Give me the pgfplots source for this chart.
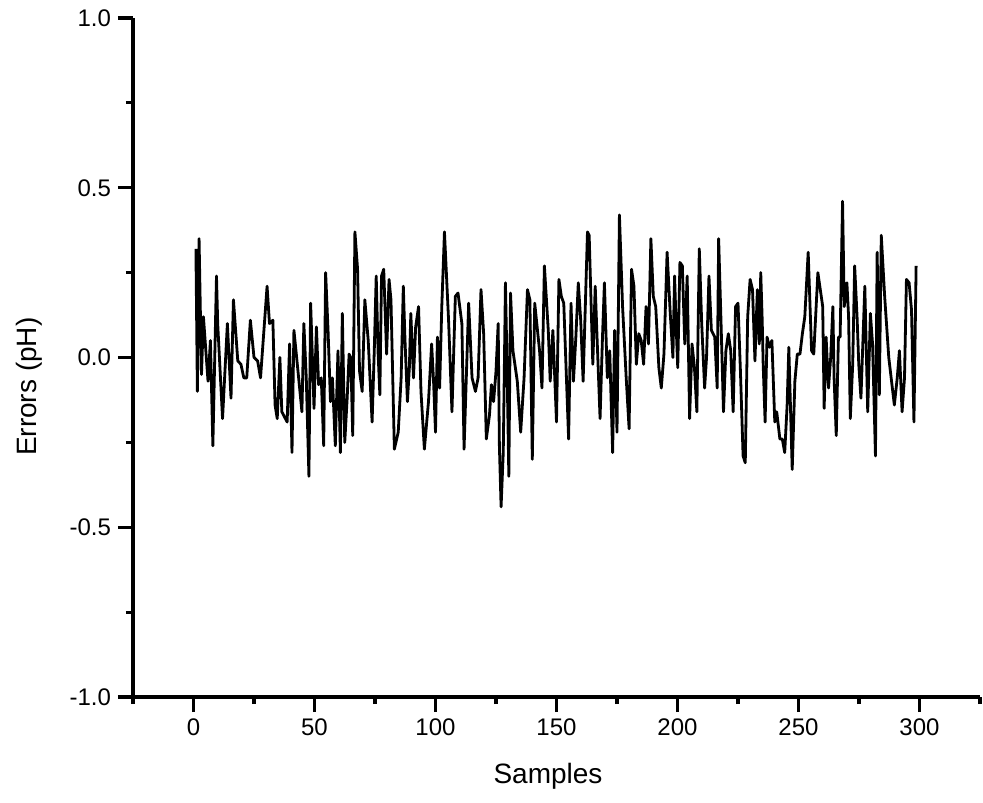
\documentclass[border=0pt]{standalone}
\usepackage{fontspec}
\setmainfont{Liberation Sans}
\usepackage{pgfplots}
\pgfplotsset{compat=1.18}
\begin{document}
\begin{tikzpicture}
\path[use as bounding box] (-66.5pt,-52.5pt) rectangle (425pt,348.5pt);
\begin{axis}[
  scale only axis,
  width=423.5pt, height=339.5pt,
  xmin=-25, xmax=325, ymin=-1, ymax=1,
  axis lines=left,
  axis line style={-, line width=1.6pt},
  tick align=outside,
  major tick length=7.5pt, minor tick length=3.5pt,
  major tick style={black, line width=1.6pt},
  minor tick style={black, line width=1.6pt},
  xtick={0,50,...,300}, xticklabels={0,50,100,150,200,250,300},
  minor xtick={-25,25,75,125,175,225,275,325},
  ytick={-1,-0.5,0,0.5,1}, yticklabels={-1.0,-0.5,0.0,0.5,1.0},
  minor ytick={-0.75,-0.25,0.25,0.75},
  tick label style={font=\fontsize{12}{14}\selectfont},
  label style={font=\fontsize{14}{16}\selectfont},
  xlabel={Samples}, ylabel={Errors (pH)},
  xlabel style={at={(axis description cs:0.49,-0.128)}, anchor=base},
  ylabel style={at={(axis description cs:-0.1136,0.457)}, anchor=base},
]
\addplot[black, line width=1.4pt, line join=round, no markers] coordinates {
(1,0.32)(1.6,-0.10)(2.3,0.35)(3.3,-0.05)(4.1,0.12)(6,-0.07)(7,0.05)(8,-0.26)
(9.5,0.24)(10,0.10)(12,-0.18)(14,0.10)(15.5,-0.12)(16.5,0.17)(18.3,-0.01)
(19.6,-0.02)(20.8,-0.06)(22,-0.06)(23.5,0.11)(25,0.0)(26.5,-0.01)(27.7,-0.06)
(30.4,0.21)(31.4,0.10)(32.8,0.11)(33.7,-0.14)(34.6,-0.18)(35.7,0.0)(36.5,-0.16)
(38.7,-0.19)(39.7,0.04)(40.7,-0.28)(41.5,0.08)(42.9,-0.02)(44.8,-0.16)(45.6,0.10)
(46.6,-0.06)(47.7,-0.35)(48.4,0.16)(48.9,0.05)(49.8,-0.15)(50.8,0.09)(51.7,-0.08)
(52.8,-0.06)(53.8,-0.26)(54.6,0.25)(55.6,0.08)(56.6,-0.13)(57.4,-0.06)(58.6,-0.26)
(59.7,0.02)(60.7,-0.28)(61.5,0.13)(62.5,-0.25)(63.5,-0.12)(64.3,0.01)(65,0.0)
(65.8,-0.23)(66.7,0.37)(67.8,0.26)(68.6,-0.04)(69.7,-0.10)(70.8,0.17)(72.2,0.05)
(73.8,-0.19)(74.7,0.02)(75.5,0.24)(76.3,0.01)(77,-0.11)(77.7,0.24)(78.6,0.26)
(79.8,0.01)(80.8,0.23)(81.6,0.17)(83,-0.27)(84.6,-0.22)(85.8,-0.06)(86.7,0.21)
(87.4,0.05)(88.4,-0.13)(89.2,-0.03)(89.8,0.13)(90.9,-0.06)(91.8,0.09)(93,0.15)
(94,-0.10)(95.4,-0.27)(97.1,-0.13)(98.4,0.04)(99.2,-0.07)(100,-0.22)(100.8,0.06)
(101.7,-0.09)(102.6,0.15)(103.7,0.37)(105.4,0.11)(106.8,-0.16)(108.2,0.18)
(109.3,0.19)(110.9,0.10)(111.8,-0.27)(113.7,0.16)(115.1,-0.06)(116.5,-0.10)
(117.6,-0.06)(118.8,0.20)(119.9,0.07)(121,-0.24)(122.3,-0.17)(123.1,-0.08)
(124,-0.13)(125,-0.04)(125.9,0.10)(126.4,-0.26)(127.1,-0.44)(128,-0.28)(128.9,0.22)
(129.6,-0.04)(130.3,-0.35)(131,0.19)(132,0.02)(133.8,-0.07)(135.2,-0.22)(136.6,-0.06)
(138,0.20)(139,0.17)(140,-0.30)(141,0.16)(143,0.02)(144,-0.09)(145,0.27)(146.6,0.08)
(147.4,-0.07)(148.5,0.08)(150,-0.19)(151,0.23)(152,0.18)(153,0.16)(155,-0.24)
(156,0.16)(157,-0.07)(158,0.06)(159,0.22)(160,0.11)(161,-0.07)(162.8,0.37)
(163.5,0.36)(165,-0.02)(166,0.21)(166.7,0.07)(168,-0.18)(169,0.06)(169.8,0.22)
(171,-0.06)(172,0.02)(172.5,-0.11)(173.2,-0.28)(174,0.08)(175,-0.22)(176,0.42)
(177.3,0.15)(178.8,-0.06)(180,-0.21)(181,0.26)(182,0.21)(183,-0.02)(184,0.07)
(185,0.05)(186,-0.02)(187,0.15)(188,0.04)(189,0.35)(190,0.18)(191,0.15)(192.3,-0.03)
(193.3,-0.09)(194.4,0.01)(195.7,0.31)(197,0.13)(198.1,0.0)(198.8,0.24)(199.4,0.10)
(200.1,-0.03)(201,0.28)(202,0.27)(203,0.04)(204,0.24)(205,-0.18)(206,0.04)(207,-0.03)
(208,-0.16)(209,0.32)(210,0.10)(211.2,-0.09)(212,0.0)(213,0.24)(214,0.08)(215.4,0.06)
(216.4,-0.09)(217,0.35)(218,0.10)(219,-0.16)(220,0.02)(221,0.07)(222,0.02)(223,-0.16)
(224,0.15)(225,0.16)(226,-0.04)(227.1,-0.29)(228,-0.31)(229,0.12)(230,0.23)(231,0.20)
(232,-0.01)(233,0.20)(233.8,0.04)(234.4,0.25)(235,0.11)(235.4,-0.02)(236.2,-0.19)
(237,0.06)(238,0.03)(239,0.05)(240.2,-0.19)(241,-0.16)(242.3,-0.24)(243.3,-0.24)
(244.3,-0.28)(245.3,-0.14)(246,0.03)(247.4,-0.33)(248.5,-0.07)(249.5,0.01)(250.6,0.01)
(251.6,0.07)(252.6,0.12)(254,0.31)(255.4,0.02)(256.3,0.01)(258,0.25)(259,0.20)
(260,0.15)(260.6,-0.15)(261.4,0.06)(262.4,-0.09)(263.3,0.0)(264.2,0.15)(264.7,-0.06)
(265.6,-0.23)(266.5,0.06)(267.2,0.06)(268.2,0.46)(268.9,0.15)(270,0.22)(270.7,0.12)
(271.4,-0.18)(272.4,-0.02)(273.2,0.27)(274.2,0.12)(274.9,-0.02)(275.8,-0.12)
(277.4,0.21)(278.6,-0.16)(279.7,0.13)(280.6,0.04)(281.8,-0.29)(282.5,0.31)(283.4,-0.11)
(284.2,0.36)(285.6,0.18)(287.3,0.0)(289.6,-0.14)(290.8,-0.06)(291.7,0.02)(292.8,-0.16)
(293.8,-0.06)(294.6,0.23)(295.7,0.22)(296.7,0.14)(297.7,-0.19)(298.6,0.27)
};
\end{axis}
\end{tikzpicture}
\end{document}
